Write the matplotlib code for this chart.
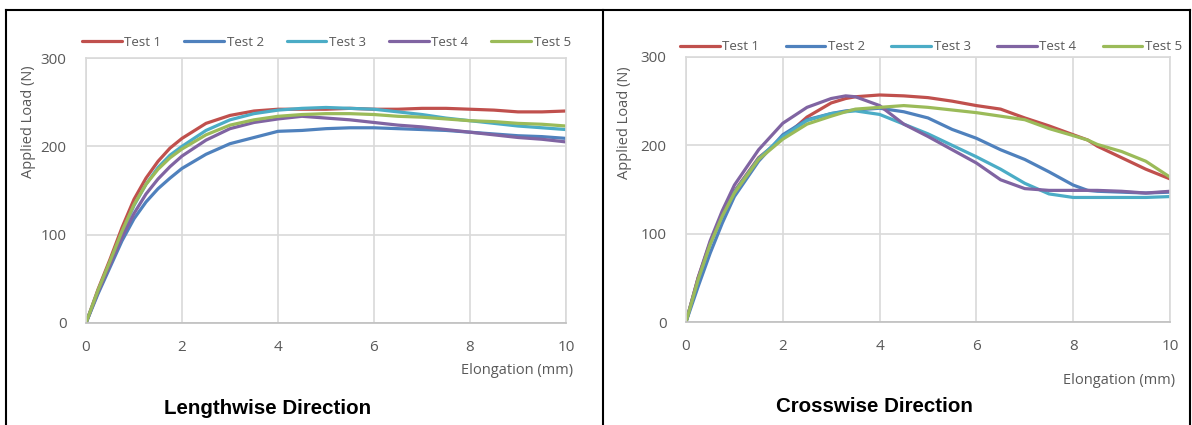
import numpy as np
import matplotlib.pyplot as plt
from matplotlib.lines import Line2D

# elongation sample points (mm)
x_len = [0, 0.25, 0.5, 0.75, 1, 1.25, 1.5, 1.75, 2, 2.5, 3, 3.5, 4, 4.5, 5,
         5.5, 6, 6.5, 7, 7.5, 8, 8.5, 9, 9.5, 10]

# Lengthwise direction loads (N)
len_t1 = [0, 38, 72, 108, 140, 164, 183, 198, 209, 226, 235, 240, 242, 242, 242,
          243, 242, 242, 243, 243, 242, 241, 239, 239, 240]
len_t2 = [0, 33, 63, 93, 118, 137, 152, 164, 175, 191, 203, 210, 217, 218, 220,
          221, 221, 220, 219, 218, 216, 214, 212, 211, 209]
len_t3 = [0, 36, 68, 102, 133, 157, 176, 190, 200, 218, 230, 237, 241, 243, 244,
          243, 242, 239, 236, 232, 229, 226, 223, 221, 219]
len_t4 = [0, 35, 66, 97, 124, 146, 163, 177, 189, 207, 220, 227, 231, 234, 232,
          230, 227, 224, 222, 219, 216, 213, 210, 208, 205]
len_t5 = [0, 37, 70, 104, 134, 157, 174, 187, 197, 213, 224, 230, 234, 236, 237,
          237, 236, 234, 233, 231, 229, 228, 226, 225, 223]

x_cross = [0, 0.25, 0.5, 0.75, 1, 1.5, 2, 2.5, 3, 3.3, 3.5, 4, 4.5, 5, 5.5, 6,
           6.5, 7, 7.5, 8, 8.3, 8.5, 9, 9.5, 10]

# Crosswise direction loads (N)
cr_t1 = [0, 50, 90, 122, 148, 186, 208, 232, 248, 253, 255, 257, 256, 254, 250,
         245, 241, 231, 222, 212, 206, 199, 186, 173, 162]
cr_t2 = [0, 40, 78, 112, 142, 182, 212, 229, 236, 239, 240, 242, 238, 231, 218,
         208, 195, 184, 170, 155, 149, 148, 147, 146, 147]
cr_t3 = [0, 48, 88, 120, 147, 185, 210, 228, 236, 238, 239, 235, 224, 213, 200,
         187, 173, 157, 145, 141, 141, 141, 141, 141, 142]
cr_t4 = [0, 50, 92, 126, 155, 195, 225, 243, 253, 256, 255, 245, 224, 210, 195,
         180, 161, 151, 149, 149, 149, 149, 148, 146, 148]
cr_t5 = [0, 48, 88, 120, 146, 184, 207, 224, 233, 238, 241, 243, 245, 243, 240,
         237, 233, 229, 219, 211, 206, 201, 193, 182, 164]

labels = ['Test 1', 'Test 2', 'Test 3', 'Test 4', 'Test 5']
colors = ['#C0504D', '#4F81BD', '#4BACC6', '#8064A2', '#9BBB59']
grey = '#595959'

fig = plt.figure(figsize=(11.92, 4.25), dpi=100)

def draw_panel(rect, xs, series, leg_y, leg_x, leg_space, xlab_pos, ylab_pos, title_pos, title):
    ax = fig.add_axes(rect)
    for ys, lab, c in zip(series, labels, colors):
        ax.plot(xs, ys, color=c, lw=2.3, label=lab, solid_capstyle='round',
                solid_joinstyle='round')
    ax.set_xlim(0, 10)
    ax.set_ylim(0, 300)
    ax.set_xticks(range(0, 11, 2))
    ax.set_yticks([0, 100, 200, 300])
    ax.grid(True, color='#d9d9d9', lw=1.2)
    ax.set_axisbelow(True)
    for s in ax.spines.values():
        s.set_color('#d9d9d9')
        s.set_linewidth(1.2)
    ax.spines['bottom'].set_color('#bfbfbf')
    ax.tick_params(length=0, labelsize=11, labelcolor=grey, pad=12)
    ax.tick_params(axis='y', pad=14)
    for lab in ax.get_xticklabels() + ax.get_yticklabels():
        lab.set_fontfamily('Open Sans')
    ax.legend(loc='center left', bbox_to_anchor=(leg_x, leg_y), bbox_transform=fig.transFigure,
              ncol=5, frameon=False, handlelength=3.0, handletextpad=0.2,
              columnspacing=leg_space, borderaxespad=0, borderpad=0,
              prop={'family': 'Open Sans', 'size': 9.5}, labelcolor=grey)
    fig.text(xlab_pos[0], xlab_pos[1], 'Elongation (mm)', ha='right', va='center',
             color=grey, fontsize=10.5, family='Open Sans')
    fig.text(ylab_pos[0], ylab_pos[1], 'Applied Load (N)', ha='center', va='center',
             rotation=90, color=grey, fontsize=10.5, family='Open Sans')
    fig.text(title_pos[0], title_pos[1], title, ha='center', va='center',
             fontsize=14.8, fontweight='bold', family='Liberation Sans', color='black')
    return ax

draw_panel([86/1192, 1-323/425, 480/1192, 265/425], x_len,
           [len_t1, len_t2, len_t3, len_t4, len_t5],
           1-42/425, 82/1192, 1.75, (573/1192, 1-370/425), (28/1192, 1-122/425),
           (268/1192, 1-409/425), 'Lengthwise Direction')
draw_panel([686/1192, 1-322/425, 484/1192, 265/425], x_cross,
           [cr_t1, cr_t2, cr_t3, cr_t4, cr_t5],
           1-47/425, 680/1192, 2.0, (1175/1192, 1-380/425), (624/1192, 1-123/425),
           (874/1192, 1-407/425), 'Crosswise Direction')

# black frame around the two panels
def fl(x0, y0, x1, y1):
    fig.add_artist(Line2D([x0/1192, x1/1192], [1-y0/425, 1-y1/425], color='black', lw=1.5))

fl(6, 10, 1190, 10)
fl(6, 10, 6, 425)
fl(603, 10, 603, 425)
fl(1190, 10, 1190, 425)

fig.savefig('out.png', dpi=100)
